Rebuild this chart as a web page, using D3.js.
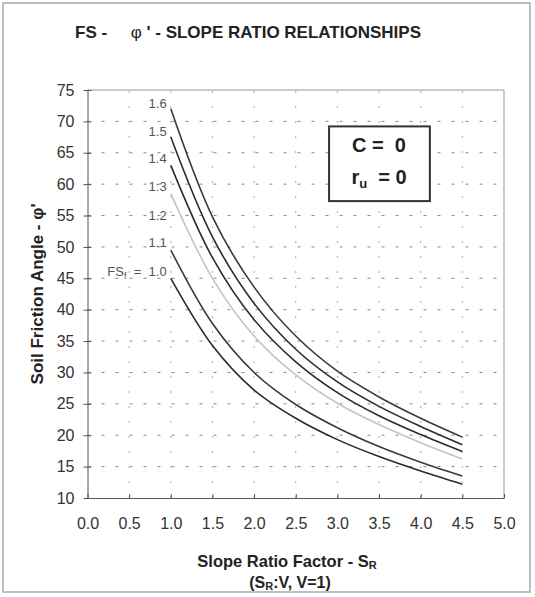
<!DOCTYPE html>
<html>
<head>
  <meta charset="utf-8">
  <title>FS - phi - slope ratio</title>
  <script src="https://d3js.org/d3.v7.min.js"></script>
  <style>
    body { margin: 0; background: #fff; }
    svg { font-family: "Liberation Sans", Arial, sans-serif; }
    svg text { white-space: pre; }
    .axis path, .axis line { stroke: #555; }
    .axis text { font-size: 16px; fill: #333; }
  </style>
</head>
<body>
  <div id="chart"></div>
  <script>
    // page size
    const width = 535;
    const height = 597;

    // data
    const slopeRatio = [1.0, 1.5, 2.0, 2.5, 3.0, 3.5, 4.0, 4.5];
    const fs10 = [45.0, 34.3, 27.2, 22.7, 19.3, 16.6, 14.3, 12.2];
    const fs11 = [49.5, 37.8, 30.0, 24.9, 21.2, 18.2, 15.7, 13.5];
    const fs13 = [58.5, 45.0, 35.8, 29.6, 25.1, 21.7, 18.8, 16.2];
    const fs14 = [63.0, 48.3, 38.4, 31.7, 26.8, 23.1, 20.1, 17.4];
    const fs15 = [67.5, 51.6, 41.0, 33.7, 28.5, 24.6, 21.4, 18.5];
    const fs16 = [72.0, 54.8, 43.6, 35.8, 30.2, 26.1, 22.7, 19.7];

    const seriesNames = ["1.0", "1.1", "1.3", "1.4", "1.5", "1.6"];
    const seriesValues = [fs10, fs11, fs13, fs14, fs15, fs16];
    const seriesColors = ["#2b2b2b", "#3a3a3a", "#c4c4c4", "#2b2b2b", "#2b2b2b", "#3a3a3a"];

    // curve labels on the left of the curves
    const labelNames = ["1.6", "1.5", "1.4", "1:3", "1.2", "1.1", "1.0"];
    const labelY = [72.8, 68.3, 64.0, 59.6, 55.0, 50.6, 46.0];

    const xTicks = [0, 0.5, 1, 1.5, 2, 2.5, 3, 3.5, 4, 4.5, 5];
    const yTicks = [10, 15, 20, 25, 30, 35, 40, 45, 50, 55, 60, 65, 70, 75];

    // scales
    const x = d3.scaleLinear().domain([0, 5]).range([87.5, 504]);
    const y = d3.scaleLinear().domain([10, 75]).range([498, 90]);

    const svg = d3.select("#chart").append("svg")
      .attr("width", width)
      .attr("height", height);

    // outer frame of the scanned figure
    svg.append("rect")
      .attr("x", 3).attr("y", 3)
      .attr("width", 527).attr("height", 589)
      .attr("fill", "none")
      .attr("stroke", "#aaa")
      .attr("stroke-width", 1.5);

    // title
    const title = svg.append("text")
      .attr("x", 75).attr("y", 38)
      .attr("font-size", 17)
      .attr("font-weight", "bold")
      .attr("fill", "#222");
    title.append("tspan").text("FS -     ");
    title.append("tspan").attr("font-weight", "normal").text("\u03C6");
    title.append("tspan").text(" ' - SLOPE RATIO RELATIONSHIPS");

    // grid
    const grid = svg.append("g");
    grid.selectAll("line.h")
      .data(yTicks.slice(1, -1))
      .join("line")
      .attr("class", "h")
      .attr("x1", x(0)).attr("x2", x(5))
      .attr("y1", d => y(d)).attr("y2", d => y(d))
      .attr("stroke", "#888")
      .attr("stroke-width", 1)
      .attr("stroke-dasharray", "3,11");
    grid.selectAll("line.v")
      .data(xTicks.slice(1, -1))
      .join("line")
      .attr("class", "v")
      .attr("x1", d => x(d)).attr("x2", d => x(d))
      .attr("y1", y(10)).attr("y2", y(75))
      .attr("stroke", "#aaa")
      .attr("stroke-width", 1)
      .attr("stroke-dasharray", "2,13");

    // top and right frame
    svg.append("line")
      .attr("x1", x(0)).attr("x2", x(5))
      .attr("y1", y(75)).attr("y2", y(75))
      .attr("stroke", "#999");
    svg.append("line")
      .attr("x1", x(5)).attr("x2", x(5))
      .attr("y1", y(75)).attr("y2", y(10))
      .attr("stroke", "#999");

    // axes
    const xAxis = d3.axisBottom(x)
      .tickValues(xTicks)
      .tickFormat(d3.format(".1f"))
      .tickSizeInner(-4)
      .tickSizeOuter(0)
      .tickPadding(20);
    svg.append("g")
      .attr("class", "axis")
      .attr("transform", `translate(0,${y(10)})`)
      .call(xAxis);

    const yAxis = d3.axisLeft(y)
      .tickValues(yTicks)
      .tickSizeInner(8)
      .tickSizeOuter(0)
      .tickPadding(5);
    svg.append("g")
      .attr("class", "axis")
      .attr("transform", `translate(${x(0)},0)`)
      .call(yAxis)
      .selectAll(".tick line")
      .attr("x2", -4).attr("x1", 4);

    // curves
    const line = d3.line()
      .x(d => x(d[0]))
      .y(d => y(d[1]))
      .curve(d3.curveCatmullRom.alpha(0.5));

    svg.append("g").selectAll("path")
      .data(seriesValues)
      .join("path")
      .attr("d", vals => line(vals.map((v, i) => [slopeRatio[i], v])))
      .attr("fill", "none")
      .attr("stroke", (d, i) => seriesColors[i])
      .attr("stroke-width", 1.6);

    // curve labels
    const labels = svg.append("g")
      .attr("font-size", 13)
      .attr("fill", "#555")
      .attr("text-anchor", "end");
    labels.selectAll("text")
      .data(labelNames)
      .join("text")
      .attr("x", x(0.95))
      .attr("y", (d, i) => y(labelY[i]) + 4)
      .each(function (d, i) {
        const t = d3.select(this);
        if (d === "1.0") {
          t.append("tspan").text("FS");
          t.append("tspan").attr("font-size", 9).attr("dy", 3).text("f");
          t.append("tspan").attr("dy", -3).text("  =  1.0");
        } else {
          t.text(d);
        }
      });

    // C / ru box
    svg.append("rect")
      .attr("x", x(2.9)).attr("y", y(69.2))
      .attr("width", x(4.11) - x(2.9))
      .attr("height", y(57.3) - y(69.2))
      .attr("fill", "#fff")
      .attr("stroke", "#333")
      .attr("stroke-width", 2);
    const boxText = svg.append("g")
      .attr("font-size", 20)
      .attr("font-weight", "bold")
      .attr("fill", "#222")
      .attr("text-anchor", "middle");
    boxText.append("text")
      .attr("x", x(3.5)).attr("y", y(66.2) + 7)
      .text("C =  0");
    const ru = boxText.append("text")
      .attr("x", x(3.5)).attr("y", y(61.2) + 7);
    ru.append("tspan").text("r");
    ru.append("tspan").attr("font-size", 13).attr("dy", 4).text("u");
    ru.append("tspan").attr("dy", -4).text("  = 0");

    // axis titles
    svg.append("text")
      .attr("transform", `translate(43,${y(42.5)}) rotate(-90)`)
      .attr("text-anchor", "middle")
      .attr("font-size", 17)
      .attr("font-weight", "bold")
      .attr("fill", "#222")
      .text("Soil Friction Angle - \u03C6'");

    const xt = svg.append("text")
      .attr("x", 287).attr("y", 567)
      .attr("text-anchor", "middle")
      .attr("font-size", 16.5)
      .attr("font-weight", "bold")
      .attr("fill", "#222");
    xt.append("tspan").text("Slope Ratio Factor - S");
    xt.append("tspan").attr("font-size", 11).attr("dy", 2).text("R");

    const xt2 = svg.append("text")
      .attr("x", 290).attr("y", 588)
      .attr("text-anchor", "middle")
      .attr("font-size", 16)
      .attr("font-weight", "bold")
      .attr("fill", "#222");
    xt2.append("tspan").text("(S");
    xt2.append("tspan").attr("font-size", 11).attr("dy", 2).text("R");
    xt2.append("tspan").attr("dy", -2).text(":V, V=1)");
  </script>
</body>
</html>
